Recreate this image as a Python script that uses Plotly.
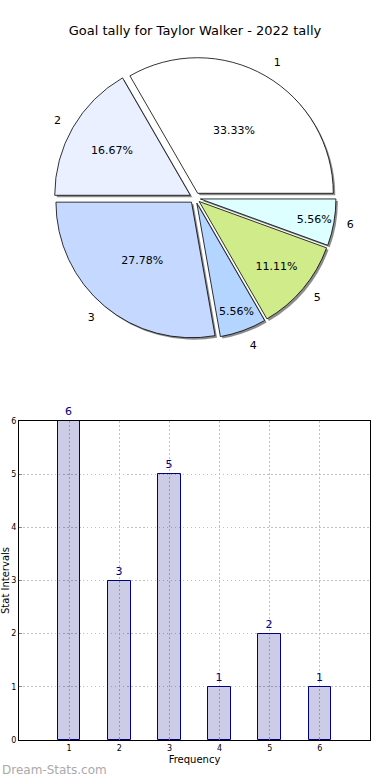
import plotly.graph_objects as go

title = "Goal tally for Taylor Walker - 2022 tally"
categories = ["1", "2", "3", "4", "5", "6"]
goals = [6, 3, 5, 1, 2, 1]
slice_colors = ["#ffffff", "#eaf0ff", "#c5d8ff", "#b4d5ff", "#d0eb8a", "#ddffff"]
x_title = "Frequency"
y_title = "Stat Intervals"
watermark = "Dream-Stats.com"

W, H = 390, 780
# pie geometry (pixels)
cx, cy, half = 195, 198, 141
pull = [0.04] * len(goals)
rot = -30

def dom(cx, cy, half):
    return dict(x=[(cx - half) / W, (cx + half) / W],
                y=[(H - cy - half) / H, (H - cy + half) / H])

fig = go.Figure()

# shadow
fig.add_trace(go.Pie(
    labels=categories, values=goals, sort=False, direction="counterclockwise",
    rotation=rot, pull=pull, domain=dom(cx + 2, cy + 2, half),
    marker=dict(colors=["rgba(0,0,0,0.45)"] * len(goals), line=dict(width=0)),
    textinfo="none", hoverinfo="skip", showlegend=False))

# main pie
fig.add_trace(go.Pie(
    labels=categories, values=goals, sort=False, direction="counterclockwise",
    rotation=rot, pull=pull, domain=dom(cx, cy, half),
    marker=dict(colors=slice_colors, line=dict(color="#000000", width=0.8)),
    texttemplate="%{percent:.2%}", textposition="inside", insidetextorientation="horizontal",
    textfont=dict(family="DejaVu Sans", size=11, color="#000000"),
    showlegend=False))

# outside labels (invisible, slightly larger pie so labels sit further out)
fig.add_trace(go.Pie(
    labels=categories, values=goals, sort=False, direction="counterclockwise",
    rotation=rot, pull=pull, domain=dom(cx, cy, half * 1.07),
    marker=dict(colors=["rgba(0,0,0,0)"] * len(goals), line=dict(width=0)),
    textinfo="label", textposition="outside",
    textfont=dict(family="DejaVu Sans", size=11, color="#000000"),
    hoverinfo="skip", showlegend=False))

# bars
fig.add_trace(go.Bar(
    x=[int(c) for c in categories], y=goals, width=0.45,
    marker=dict(color="rgba(0,0,128,0.2)", line=dict(color="#000080", width=1)),
    text=[str(v) for v in goals], textposition="outside", cliponaxis=False,
    textfont=dict(family="DejaVu Sans", size=11, color="#000080"),
    showlegend=False, xaxis="x", yaxis="y"))

grid_dash = "1.5px,2.5px"
fig.update_layout(
    width=W, height=H, margin=dict(l=0, r=0, t=0, b=0, autoexpand=False),
    paper_bgcolor="white", plot_bgcolor="white",
    font=dict(family="DejaVu Sans", color="#000000"),
    title=dict(text=title, x=0.5, xref="paper", xanchor="center", y=1 - 30 / H, yanchor="middle",
               font=dict(size=13, family="DejaVu Sans", color="#000000")),
    xaxis=dict(domain=[19 / W, 370 / W], range=[0, 7], tickvals=[1, 2, 3, 4, 5, 6],
               showgrid=True, gridcolor="#c0c0c0", griddash=grid_dash, gridwidth=1,
               showline=True, linecolor="#000000", linewidth=1, mirror=True,
               ticks="inside", ticklen=3, tickcolor="#888888", automargin=False,
               tickfont=dict(size=8, color="#000000"), zeroline=False,
               title=dict(text=x_title, font=dict(size=10), standoff=4), fixedrange=True),
    yaxis=dict(domain=[(H - 740) / H, (H - 421) / H], range=[0, 6], dtick=1,
               showgrid=True, gridcolor="#c0c0c0", griddash=grid_dash, gridwidth=1,
               showline=True, linecolor="#000000", linewidth=1, mirror=True,
               ticks="inside", ticklen=3, tickcolor="#888888", automargin=False,
               tickfont=dict(size=8, color="#000000"), zeroline=False,
               title=dict(text=y_title, font=dict(size=10), standoff=4), fixedrange=True),
    bargap=0,
    annotations=[dict(text=watermark, xref="paper", yref="paper", x=0, y=1 - 770 / H,
                      xanchor="left", yanchor="middle", showarrow=False,
                      font=dict(size=12, color="#aaaaaa", family="DejaVu Sans"))],
)

fig.write_html("out.html", config={"displayModeBar": False},
               post_script="document.body.style.margin='0px';document.body.style.overflow='hidden';")
